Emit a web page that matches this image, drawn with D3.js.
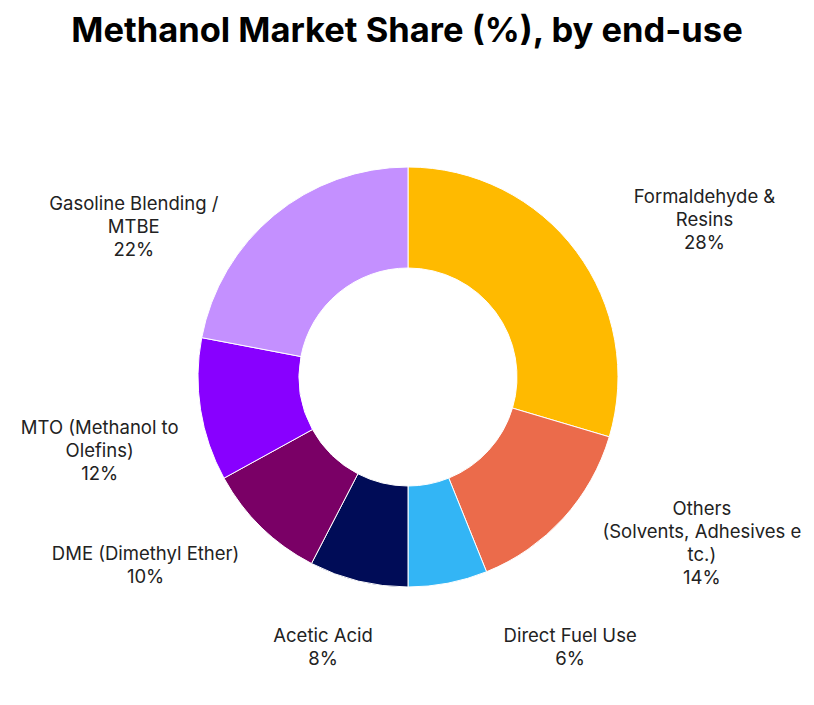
<!DOCTYPE html>
<html><head><meta charset="utf-8">
<script src="https://cdn.jsdelivr.net/npm/d3@7"></script>
<style>body{margin:0;background:#fff;font-family:Inter,"Noto Sans",sans-serif}</style>
</head><body><svg id="c" width="814" height="705"></svg>
<script>
const categories=["Formaldehyde & Resins","Others (Solvents, Adhesives etc.)","Direct Fuel Use","Acetic Acid","DME (Dimethyl Ether)","MTO (Methanol to Olefins)","Gasoline Blending / MTBE"];
const labelLines=[["Formaldehyde &","Resins"],["Others","(Solvents, Adhesives e","tc.)"],["Direct Fuel Use"],["Acetic Acid"],["DME (Dimethyl Ether)"],["MTO (Methanol to","Olefins)"],["Gasoline Blending /","MTBE"]];
// slice sizes as drawn in the reference
const values=[29.6,14.3,6.1,7.6,9.4,11,22];
// percentages as printed in the labels
const labelPct=[28,14,6,8,10,12,22];
const colors=["#FFBA00","#EB6B4B","#33B5F5","#000C57","#7A0066","#8800FF","#C490FF"];
const labelOffsets=[[56,22],[72,-35],[105,-24],[-14,-21],[-53,-26],[-12,27],[-83,81]];

const svg=d3.select("#c");
svg.append("text").attr("x",407).attr("y",42).attr("text-anchor","middle")
 .attr("font-size",34.5).attr("font-weight",700).attr("fill","#000").text("Methanol Market Share (%), by end-use");
const cx=408,cy=377,R=210,r=109;
const g=svg.append("g").attr("transform",`translate(${cx},${cy})`);
const pie=d3.pie().sort(null).value(d=>d)(values);
const arc=d3.arc().innerRadius(r).outerRadius(R);
g.selectAll("path").data(pie).join("path").attr("d",arc)
 .attr("fill",(d,i)=>colors[i]).attr("stroke","#fff").attr("stroke-width",1);
const la=d3.arc().innerRadius(300).outerRadius(300);
pie.forEach((d,i)=>{
 const [x,y]=la.centroid(d);
 const lines=[...labelLines[i],labelPct[i]+"%"];
 const n=lines.length;
 const t=g.append("text").attr("text-anchor","middle").attr("font-size",18.5).attr("fill","#222");
 lines.forEach((s,k)=>t.append("tspan").attr("x",x+labelOffsets[i][0])
   .attr("y",y+labelOffsets[i][1]+(k-(n-1)/2)*23+6).text(s));
});
</script></body></html>
